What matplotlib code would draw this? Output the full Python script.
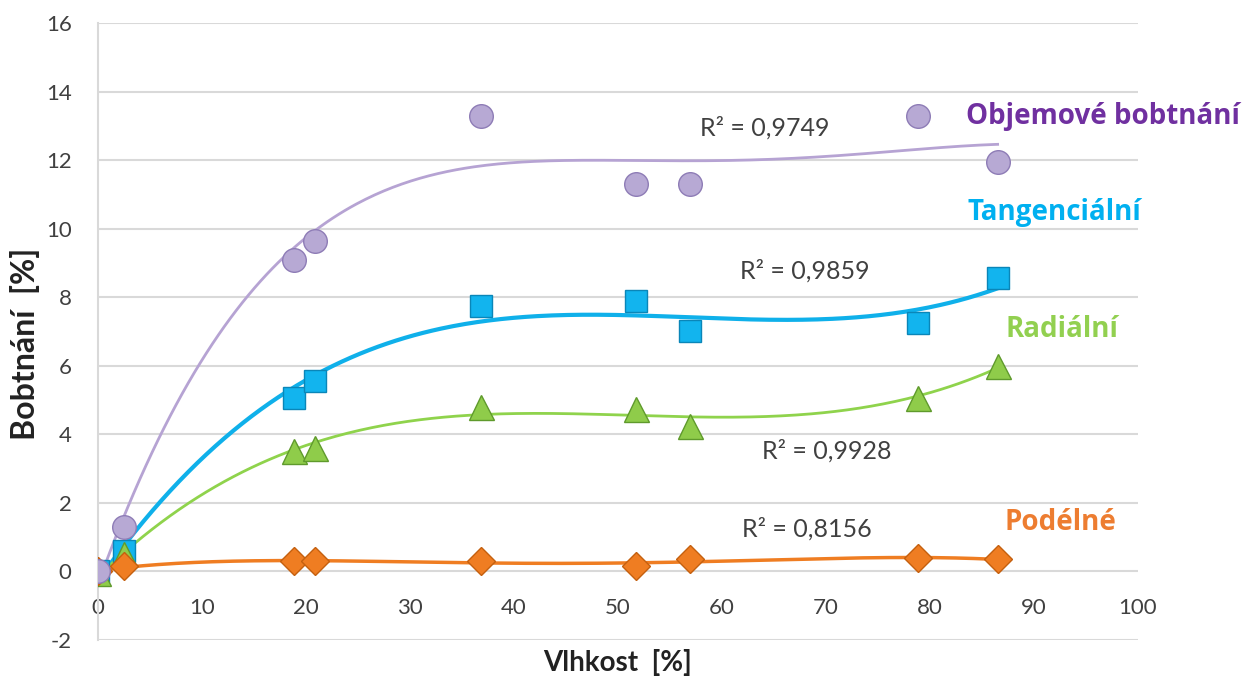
import numpy as np
import matplotlib.pyplot as plt

plt.rcParams['font.family'] = ['Lato', 'DejaVu Sans']
plt.rcParams['axes.unicode_minus'] = False

# vlhkost [%]
vlhkost = [0, 2.5, 18.8, 20.9, 36.8, 51.7, 56.9, 78.8, 86.5]

objemove = [0, 1.3, 9.1, 9.65, 13.3, 11.3, 11.3, 13.3, 11.95]
tangencialni = [0, 0.6, 5.05, 5.55, 7.75, 7.9, 7.0, 7.25, 8.55]
radialni = [-0.05, 0.5, 3.5, 3.6, 4.8, 4.75, 4.25, 5.05, 6.0]
podelne = [0, 0.15, 0.3, 0.3, 0.3, 0.15, 0.35, 0.4, 0.35]

r2_labels = ["R² = 0,9749", "R² = 0,9859", "R² = 0,9928", "R² = 0,8156"]
series_names = ["Objemové bobtnání", "Tangenciální", "Radiální", "Podélné"]

x_ticks = list(range(0, 101, 10))
y_ticks = list(range(-2, 17, 2))

fig = plt.figure(figsize=(12.44, 6.77), dpi=100)
ax = fig.add_axes([0.0788, 0.0547, 0.836, 0.9113])

ax.set_xlim(0, 100)
ax.set_ylim(-2, 16)
ax.set_yticks(y_ticks)
ax.set_xticks(x_ticks)
ax.yaxis.grid(True, color='#d9d9d9', linewidth=1.5)
ax.set_axisbelow(True)

for s in ['top', 'right']:
    ax.spines[s].set_visible(False)
ax.spines['left'].set_color('#d9d9d9')
ax.spines['left'].set_linewidth(1.5)
ax.spines['bottom'].set_position(('data', 0))
ax.spines['bottom'].set_visible(False)
ax.tick_params(axis='both', length=0, labelsize=16, colors='#404040')
ax.tick_params(axis='x', pad=19)
ax.tick_params(axis='y', pad=19)

# (data, polynom. stupen, marker, face, edge, line colour, line width, marker size, z)
series = [
    (tangencialni, 3, 's', '#12b4ee', '#0a86b8', '#0fb0ea', 3.0, 16, 3),
    (radialni, 3, '^', '#8fcc4a', '#5f9a2c', '#8fd34c', 2.0, 18, 4),
    (podelne, 4, 'D', '#ef7d22', '#c4600f', '#ef7d22', 2.5, 14, 5),
    (objemove, 4, 'o', '#b7a9d4', '#8e7cb6', '#b6a3d3', 2.0, 17, 6),
]

xs = np.linspace(min(vlhkost), max(vlhkost), 300)
for ys, deg, mk, fc, ec, lc, lw, ms, z in series:
    coef = np.polyfit(vlhkost, ys, deg)
    ax.plot(xs, np.polyval(coef, xs), color=lc, linewidth=lw, zorder=2)
    ax.plot(vlhkost, ys, linestyle='none', marker=mk, markersize=ms,
            markerfacecolor=fc, markeredgecolor=ec, markeredgewidth=1.0, zorder=z)

# popisky R²
r2_pos = [(64.1, 12.93), (68.0, 8.78), (70.1, 3.51), (68.2, 1.25)]
for txt, (tx, ty) in zip(r2_labels, r2_pos):
    ax.text(tx, ty, txt, fontsize=18, color='#404040', ha='center', va='center')

name_pos = [(96.6, 13.28), (92.0, 10.46), (92.7, 7.07), (92.5, 1.42)]
name_col = ['#7030a0', '#00b0f0', '#92d050', '#ed7d31']
for txt, (tx, ty), c in zip(series_names, name_pos, name_col):
    ax.text(tx, ty, txt, fontsize=20, fontweight='bold', color=c,
            ha='center', va='center', family=['Open Sans', 'DejaVu Sans'], clip_on=False)

ax.set_xlabel("Vlhkost  [%]", fontsize=20, fontweight='bold', color='#222222')
ax.xaxis.set_label_coords(0.5, -0.015)
ax.set_ylabel("Bobtnání  [%]", fontsize=23, fontweight='bold', color='#222222')
ax.yaxis.set_label_coords(-0.056, 0.48)

fig.savefig('out.png', dpi=100)
